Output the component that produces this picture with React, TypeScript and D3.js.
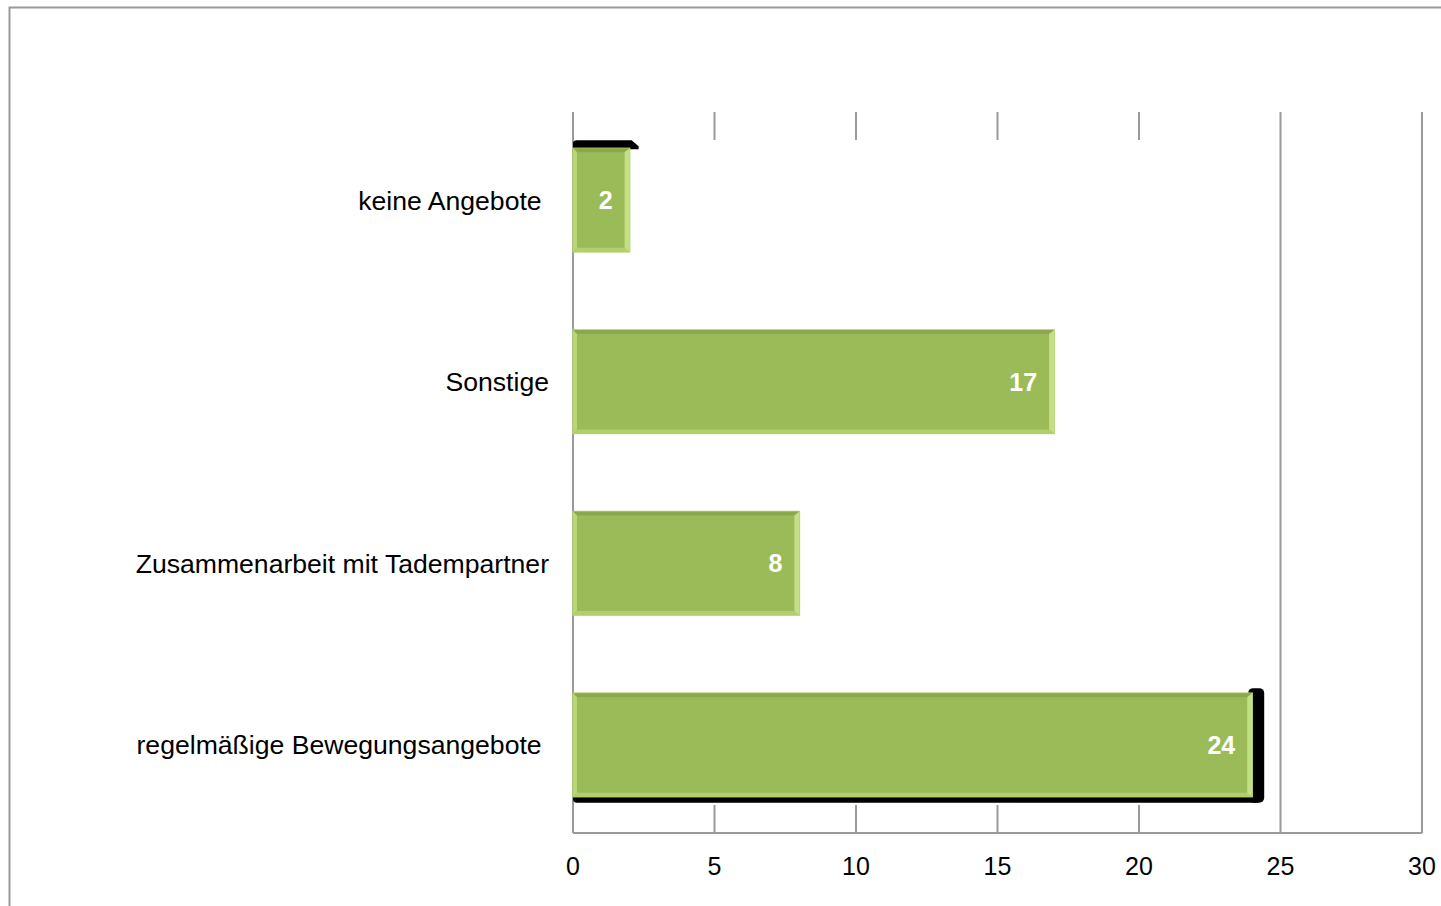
import React, { useEffect, useRef } from 'react';
import * as d3 from 'd3';

const categories = ['keine Angebote ', 'Sonstige', 'Zusammenarbeit mit Tadempartner', 'regelmäßige Bewegungsangebote '];
const values = [2, 17, 8, 24];
const ticks = [0, 5, 10, 15, 20, 25, 30];

const App = () => {
    const svgRef = useRef(null);

    useEffect(() => {
        const svg = d3.select(svgRef.current);
        const width = 1441;
        const height = 906;
        const marginTop = 112;
        const marginBottom = 73;
        const marginLeft = 573;
        const marginRight = 19;

        svg.selectAll('*').remove();

        // outer frame
        svg.append('rect')
            .attr('x', 9.5).attr('y', 7.5)
            .attr('width', width).attr('height', height)
            .attr('fill', 'white')
            .attr('stroke', '#9a9a9a').attr('stroke-width', 2);

        const x = d3.scaleLinear()
            .domain([0, 30])
            .range([marginLeft, width - marginRight]);

        const y = d3.scaleBand()
            .domain(categories)
            .range([marginTop, height - marginBottom])
            .paddingInner(0.43)
            .paddingOuter(0.2);

        // gridlines
        svg.append('g')
            .selectAll('line')
            .data(ticks.slice(1))
            .join('line')
            .attr('x1', d => x(d)).attr('x2', d => x(d))
            .attr('y1', marginTop).attr('y2', height - marginBottom)
            .attr('stroke', '#9a9a9a').attr('stroke-width', 2);

        // white back panel hiding middle of gridlines
        const maxV = d3.max(values);
        svg.append('rect')
            .attr('x', x(0) + 1).attr('y', marginTop + 28)
            .attr('width', x(maxV) + 14 - x(0)).attr('height', (height - marginBottom - 28) - (marginTop + 28))
            .attr('fill', 'white');

        // axes lines
        svg.append('line')
            .attr('x1', x(0)).attr('x2', x(30))
            .attr('y1', height - marginBottom).attr('y2', height - marginBottom)
            .attr('stroke', '#9a9a9a').attr('stroke-width', 2);
        svg.append('line')
            .attr('x1', x(0)).attr('x2', x(0))
            .attr('y1', marginTop).attr('y2', height - marginBottom)
            .attr('stroke', '#9a9a9a').attr('stroke-width', 2);

        const bh = y.bandwidth();

        // black shadows
        const iFirst = 0;
        const iLast = values.indexOf(maxV);
        const y1 = y(categories[iFirst]);
        const xe1 = x(values[iFirst]);
        svg.append('path')
            .attr('d', `M${x(0)},${y1 + 1}V${y1 - 5}Q${x(0)},${y1 - 8} ${x(0) + 4},${y1 - 8}H${xe1 + 2}L${xe1 + 9},${y1 - 2}V${y1 + 1}Z`)
            .attr('fill', 'black');
        const y4 = y(categories[iLast]);
        const xe4 = x(values[iLast]);
        svg.append('rect')
            .attr('x', xe4 - 4).attr('y', y4 - 5)
            .attr('width', 16).attr('height', bh + 11)
            .attr('rx', 5).attr('fill', 'black');
        svg.append('rect')
            .attr('x', x(0)).attr('y', y4 + bh - 4)
            .attr('width', xe4 + 8 - x(0)).attr('height', 10)
            .attr('rx', 4).attr('fill', 'black');

        // bars
        const bars = svg.append('g')
            .selectAll('g')
            .data(values)
            .join('g')
            .attr('transform', (d, i) => `translate(${x(0)},${y(categories[i])})`);

        bars.append('rect')
            .attr('width', d => x(d) - x(0)).attr('height', bh)
            .attr('fill', '#9bbb59')
            .attr('stroke', '#b3d16c').attr('stroke-width', 1.5);
        // bevel top
        bars.append('path')
            .attr('d', d => { const w = x(d) - x(0); return `M0,0H${w}L${w - 5},4H4Z`; })
            .attr('fill', '#8ba84e');
        // bevel bottom
        bars.append('path')
            .attr('d', d => { const w = x(d) - x(0); return `M0,${bh}H${w}L${w - 5},${bh - 4}H4Z`; })
            .attr('fill', '#b2cf6d');
        // bevel right
        bars.append('path')
            .attr('d', d => { const w = x(d) - x(0); return `M${w},0V${bh}L${w - 5},${bh - 4}V4Z`; })
            .attr('fill', '#c4df86');
        // bevel left
        bars.append('path')
            .attr('d', `M0,0V${bh}L4,${bh - 4}V4Z`)
            .attr('fill', '#b8d677');

        bars.append('text')
            .attr('x', d => x(d) - x(0) - 17)
            .attr('y', bh / 2)
            .attr('dy', '0.36em')
            .attr('text-anchor', 'end')
            .attr('fill', 'white')
            .attr('font-family', 'Liberation Sans, Arial, sans-serif')
            .attr('font-weight', 'bold')
            .attr('font-size', 25)
            .text(d => d);

        // category labels
        svg.append('g')
            .selectAll('text')
            .data(categories)
            .join('text')
            .attr('x', x(0) - 24)
            .attr('y', d => y(d) + bh / 2)
            .attr('dy', '0.36em')
            .attr('text-anchor', 'end')
            .attr('font-family', 'Liberation Sans, Arial, sans-serif')
            .attr('font-size', 26.6)
            .style('white-space', 'pre')
            .text(d => d);

        // tick labels
        svg.append('g')
            .selectAll('text')
            .data(ticks)
            .join('text')
            .attr('x', d => x(d))
            .attr('y', height - marginBottom + 33)
            .attr('dy', '0.36em')
            .attr('text-anchor', 'middle')
            .attr('font-family', 'Liberation Sans, Arial, sans-serif')
            .attr('font-size', 25)
            .text(d => d);
    }, []);

    return <svg ref={svgRef} width={1441} height={906} style={{ position: 'absolute', left: 0, top: 0 }}></svg>;
};

export default App;
